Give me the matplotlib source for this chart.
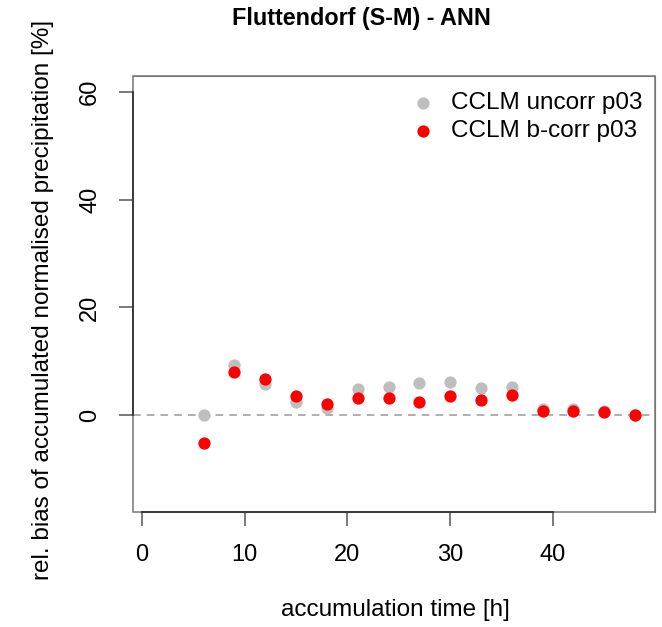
import numpy as np
import matplotlib.pyplot as plt
from matplotlib.patches import Rectangle

plt.rcParams['font.family'] = ['Liberation Sans', 'DejaVu Sans']

# accumulation time [h]
acc_time = [6, 9, 12, 15, 18, 21, 24, 27, 30, 33, 36, 39, 42, 45, 48]
# relative bias [%]
uncorr = [0.0, 9.3, 5.7, 2.4, 1.4, 4.8, 5.3, 5.9, 6.2, 5.1, 5.2, 1.1, 1.1, 0.7, 0.1]
bcorr = [-5.1, 8.0, 6.7, 3.6, 2.1, 3.1, 3.2, 2.4, 3.6, 2.8, 3.7, 0.7, 0.7, 0.6, 0.1]

W, H = 662, 627
fig = plt.figure(figsize=(W / 100, H / 100), dpi=100)
ax = fig.add_axes([133 / W, 1 - 512 / H, 522 / W, 436 / H])

ax.axhline(0, color='#999999', lw=1.1, ls=(0, (5, 4)), zorder=1)
ax.scatter(acc_time, uncorr, s=78, color='#BEBEBE', lw=0, label='CCLM uncorr p03', zorder=2)
ax.scatter(acc_time, bcorr, s=78, color='#FF0000', lw=0, label='CCLM b-corr p03', zorder=3)

ax.set_xlim(-0.88, 49.95)
ax.set_ylim(-18.0, 63.0)
ax.set_xticks([0, 10, 20, 30, 40])
ax.set_yticks([0, 20, 40, 60])
ax.tick_params(axis='both', labelsize=17, length=10, width=1.1, color='#555555', pad=13)
for lab in ax.get_yticklabels():
    lab.set_rotation(90)
    lab.set_va('center')

# R-style axes: dark axis lines over tick range, lighter box
for s in ['top', 'right']:
    ax.spines[s].set_color('#777777')
ax.spines['left'].set_bounds(0, 60)
ax.spines['bottom'].set_bounds(0, 40)
ax.spines['left'].set_color('#333333')
ax.spines['bottom'].set_color('#333333')
ax.spines['left'].set_linewidth(1.3)
ax.spines['bottom'].set_linewidth(1.3)
ax.add_patch(Rectangle((0, 0), 1, 1, transform=ax.transAxes, fill=False,
                       edgecolor='#777777', lw=1.1, clip_on=False, zorder=0))

fig.text(395 / W, 1 - 610 / H, 'accumulation time [h]', fontsize=17.5, ha='center', va='center')
fig.text(43 / W, 1 - 300 / H, 'rel. bias of accumulated normalised precipitation [%]',
         fontsize=17.5, rotation=90, ha='center', va='center')
fig.text(361 / W, 1 - 19 / H, 'Fluttendorf (S-M) - ANN', fontsize=16.8,
         fontweight='bold', ha='center', va='center')

ax.legend(loc='upper right', frameon=False, fontsize=17.5, handletextpad=0.15,
          borderaxespad=0.0, labelspacing=0.25, markerscale=1.0,
          bbox_to_anchor=(0.995, 0.985))

fig.savefig('out.png', dpi=100)
